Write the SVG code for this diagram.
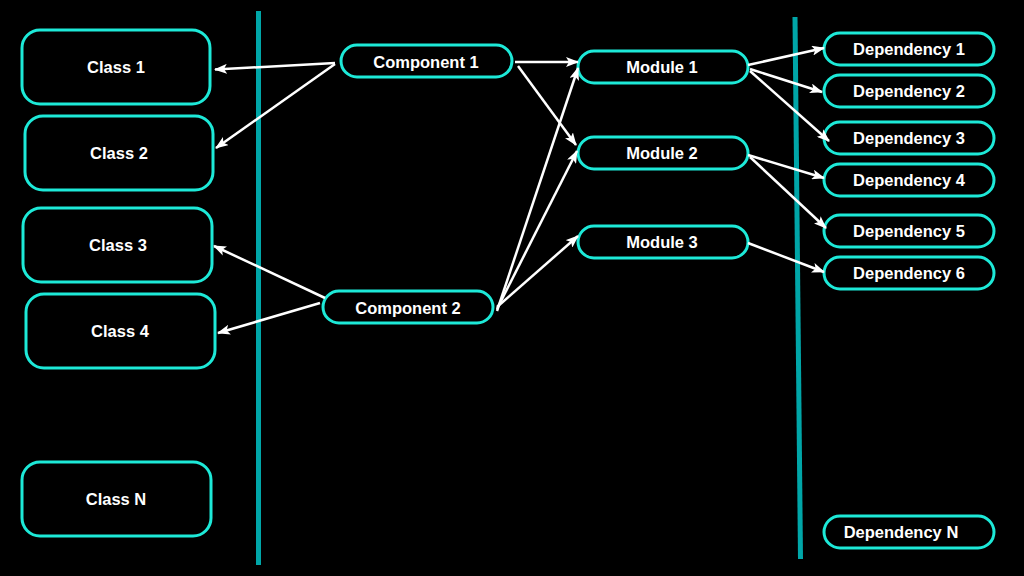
<svg xmlns="http://www.w3.org/2000/svg" width="1024" height="576" viewBox="0 0 1024 576">
  <defs>
    <marker id="ah" markerUnits="userSpaceOnUse" markerWidth="13" markerHeight="10" refX="12" refY="5" orient="auto" viewBox="0 0 13 10">
      <path d="M0,0 L13,5 L0,10 L3,5 z" fill="#ffffff"/>
    </marker>
    <style>
      .box { fill: #000000; stroke: #1de9d8; stroke-width: 3; }
      .lbl { font-family: "Liberation Sans", Arial, Helvetica, sans-serif; font-weight: bold; font-size: 16.5px; fill: #ffffff; text-anchor: middle; }
      .sep { stroke: #00a6a8; stroke-width: 5; fill: none; }
      .conn line { stroke: #ffffff; stroke-width: 2.5; marker-end: url(#ah); }
    </style>
  </defs>
  <rect x="0" y="0" width="1024" height="576" fill="#000000"/>

  <g id="separators">
    <line class="sep" x1="258.5" y1="11" x2="258.5" y2="565"/>
    <line class="sep" x1="795" y1="17" x2="800.5" y2="559"/>
  </g>

  <g id="class1"><rect class="box" x="22" y="30" width="188" height="74" rx="18"/><text class="lbl" x="116" y="73">Class 1</text></g>
  <g id="class2"><rect class="box" x="25" y="116" width="188" height="74" rx="18"/><text class="lbl" x="119" y="159">Class 2</text></g>
  <g id="class3"><rect class="box" x="23" y="208" width="189" height="74" rx="18"/><text class="lbl" x="118" y="251">Class 3</text></g>
  <g id="class4"><rect class="box" x="26" y="294" width="189" height="74" rx="18"/><text class="lbl" x="120" y="337">Class 4</text></g>
  <g id="classN"><rect class="box" x="22" y="462" width="189" height="74" rx="18"/><text class="lbl" x="116" y="505">Class N</text></g>

  <g id="component1"><rect class="box" x="341" y="45" width="171" height="32" rx="16"/><text class="lbl" x="426" y="68">Component 1</text></g>
  <g id="component2"><rect class="box" x="323" y="291" width="170" height="32" rx="16"/><text class="lbl" x="408" y="314">Component 2</text></g>

  <g id="module1"><rect class="box" x="578" y="51" width="170" height="32" rx="16"/><text class="lbl" x="662" y="73">Module 1</text></g>
  <g id="module2"><rect class="box" x="578" y="137" width="170" height="32" rx="16"/><text class="lbl" x="662" y="159">Module 2</text></g>
  <g id="module3"><rect class="box" x="578" y="226" width="170" height="32" rx="16"/><text class="lbl" x="662" y="248">Module 3</text></g>

  <g id="dep1"><rect class="box" x="824" y="33" width="170" height="32" rx="16"/><text class="lbl" x="909" y="55">Dependency 1</text></g>
  <g id="dep2"><rect class="box" x="824" y="75" width="170" height="32" rx="16"/><text class="lbl" x="909" y="97">Dependency 2</text></g>
  <g id="dep3"><rect class="box" x="824" y="122" width="170" height="32" rx="16"/><text class="lbl" x="909" y="144">Dependency 3</text></g>
  <g id="dep4"><rect class="box" x="824" y="164" width="170" height="32" rx="16"/><text class="lbl" x="909" y="186">Dependency 4</text></g>
  <g id="dep5"><rect class="box" x="824" y="215" width="170" height="32" rx="16"/><text class="lbl" x="909" y="237">Dependency 5</text></g>
  <g id="dep6"><rect class="box" x="824" y="257" width="170" height="32" rx="16"/><text class="lbl" x="909" y="279">Dependency 6</text></g>
  <g id="depN"><rect class="box" x="824" y="516" width="170" height="32" rx="16"/><text class="lbl" x="901" y="538">Dependency N</text></g>

  <g id="connectors" class="conn">
    <line x1="335" y1="63" x2="215" y2="69.5"/>
    <line x1="335" y1="64" x2="216" y2="148"/>
    <line x1="325" y1="298" x2="214" y2="246"/>
    <line x1="320" y1="303" x2="218" y2="333"/>
    <line x1="515" y1="62" x2="578" y2="62"/>
    <line x1="518" y1="66" x2="576" y2="145"/>
    <line x1="497" y1="311" x2="578" y2="68"/>
    <line x1="497" y1="309" x2="577" y2="151"/>
    <line x1="497" y1="307" x2="578" y2="236"/>
    <line x1="748" y1="65" x2="824" y2="48"/>
    <line x1="750" y1="69" x2="822" y2="92"/>
    <line x1="750" y1="71" x2="829" y2="141"/>
    <line x1="748" y1="155" x2="824" y2="178"/>
    <line x1="750" y1="157" x2="826" y2="228"/>
    <line x1="748" y1="243" x2="824" y2="272"/>
  </g>
</svg>
